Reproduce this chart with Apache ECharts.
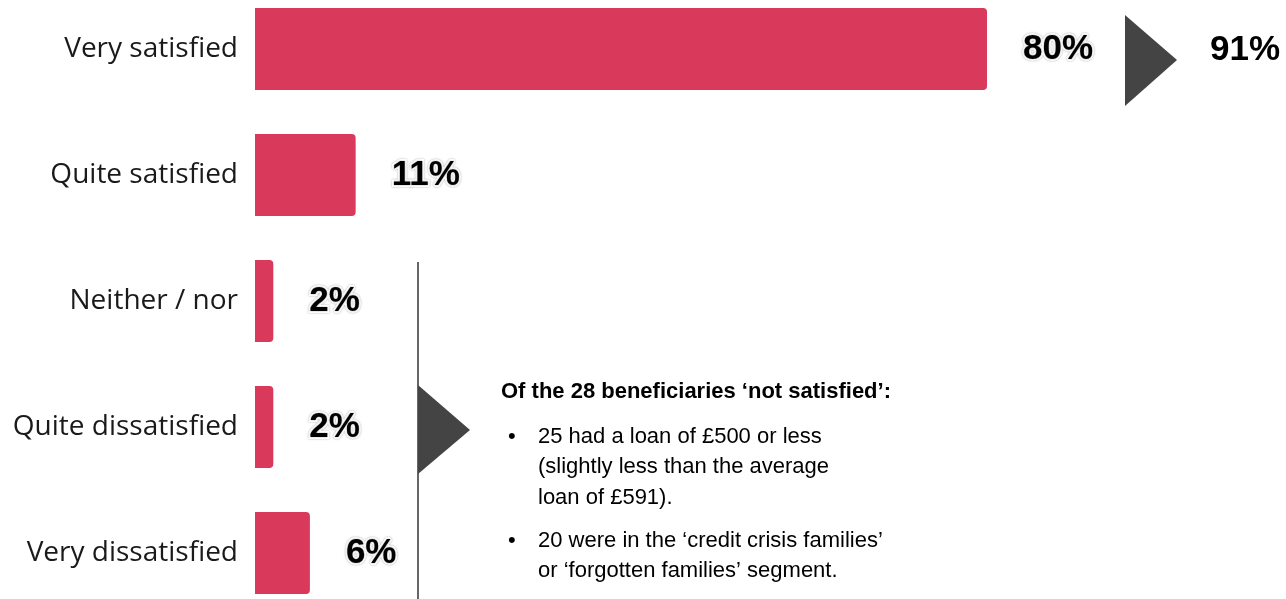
<!DOCTYPE html>
<html><head><meta charset="utf-8">
<script src="https://cdn.jsdelivr.net/npm/echarts@6/dist/echarts.min.js"></script>
<style>html,body{margin:0;padding:0;background:#fff}#c{width:1286px;height:599px}</style>
</head><body><div id="c"></div>
<script>
const categories = ['Very satisfied','Quite satisfied','Neither / nor','Quite dissatisfied','Very dissatisfied'];
const values = [80, 11, 2, 2, 6];
const totalSatisfied = '91%';
const noteTitle = 'Of the 28 beneficiaries \u2018not satisfied\u2019:';
const noteLines = [
  ['\u2022', '25 had a loan of \u00a3500 or less'],
  ['', '(slightly less than the average'],
  ['', 'loan of \u00a3591).'],
  ['\u2022', '20 were in the \u2018credit crisis families\u2019'],
  ['', 'or \u2018forgotten families\u2019 segment.']
];
const noteLineY = [437, 467, 498, 541, 571];

const chart = echarts.init(document.getElementById('c'), null, {renderer:'canvas'});
const graphics = [
  {type:'polygon', shape:{points:[[1125,15],[1177,60],[1125,106]]}, style:{fill:'#444444'}},
  {type:'text', x:1245, y:50, style:{text: totalSatisfied, font:'bold 35px "Liberation Sans", Arial', fill:'#000', align:'center', verticalAlign:'middle'}},
  {type:'line', shape:{x1:418,y1:262,x2:418,y2:599}, style:{stroke:'#333', lineWidth:1.5}},
  {type:'polygon', shape:{points:[[418,385],[470,430],[418,474]]}, style:{fill:'#444444'}},
  {type:'text', x:501, y:392, style:{text: noteTitle, font:'bold 22px "Liberation Sans", Arial', fill:'#000', align:'left', verticalAlign:'middle'}}
];
noteLines.forEach((l,i)=>{
  if(l[0]) graphics.push({type:'text', x:508, y:noteLineY[i], style:{text:l[0], font:'22px "Liberation Sans", Arial', fill:'#000', align:'left', verticalAlign:'middle'}});
  graphics.push({type:'text', x:538, y:noteLineY[i], style:{text:l[1], font:'22px "Liberation Sans", Arial', fill:'#000', align:'left', verticalAlign:'middle'}});
});

chart.setOption({
  animation:false,
  grid:{left:255, right:116, top:-14, height:630, containLabel:false, outerBoundsMode:'none'},
  xAxis:{type:'value', min:0, max:100, show:false},
  yAxis:{type:'category', data:categories, inverse:true,
    axisLine:{show:false}, axisTick:{show:false},
    axisLabel:{margin:17, fontSize:28, fontFamily:'"Open Sans", sans-serif', color:'#1a1a1a'}},
  series:[{
    type:'bar', data:values, barWidth:82,
    itemStyle:{color:'#d9395a', borderRadius:[0,4,4,0]},
    label:{show:true, position:'right', distance:36, formatter:'{c}%',
      fontSize:35, fontWeight:'bold', fontFamily:'"Liberation Sans", Arial', color:'#000',
      textBorderColor:'#fff', textBorderWidth:4, textShadowColor:'rgba(0,0,0,0.35)', textShadowBlur:2}
  }],
  graphic:graphics
});
</script></body></html>
